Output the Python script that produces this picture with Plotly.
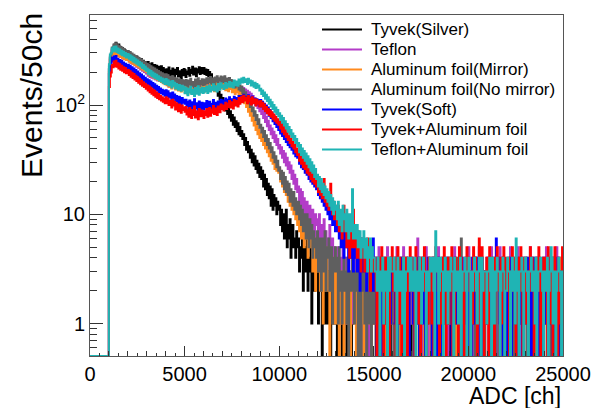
import plotly.graph_objects as go

# ---------------- data ----------------
BIN_WIDTH = 50          # ch per bin
N_EMPTY_LEADING = 20    # bins 0..950 are empty (threshold at 1000 ch)

series_names = [
    "Tyvek(Silver)",
    "Teflon",
    "Aluminum foil(Mirror)",
    "Aluminum foil(No mirror)",
    "Tyvek(Soft)",
    "Tyvek+Aluminum foil",
    "Teflon+Aluminum foil",
]
series_colors = ["#000000", "#B33CC8", "#FF8A1E", "#5F5F5F", "#0000FF", "#FF0000", "#1FB4B4"]

x_tick_values = [0, 5000, 10000, 15000, 20000, 25000]
x_tick_labels = ["0", "5000", "10000", "15000", "20000", "25000"]
y_tick_values = [1, 10, 100]
y_tick_labels = ["1", "10", "10<sup>2</sup>"]

# counts per 50ch bin from 1000 ch to 13950 ch
tyvek_silver_main = [
    214, 271, 283, 322, 301, 352, 318, 371, 329, 312, 358, 301, 339, 292, 331, 284, 322, 276, 309, 271,
    303, 266, 297, 259, 288, 247, 281, 273, 242, 279, 236, 268, 251, 229, 262, 218, 254, 240, 213, 247,
    211, 248, 219, 237, 204, 241, 226, 199, 233, 208, 229, 196, 224, 214, 188, 227, 201, 219, 193, 212,
    184, 213, 195, 221, 179, 206, 189, 216, 198, 175, 210, 192, 218, 183, 204, 196, 171, 209, 187, 214,
    209, 181, 203, 192, 218, 186, 211, 197, 224, 190, 205, 216, 184, 213, 199, 222, 193, 208, 219, 196,
    219, 193, 212, 188, 209, 183, 201, 176, 191, 163, 174, 149, 163, 136, 149, 122, 133, 112, 124, 103,
    116, 97, 108, 89, 101, 83, 95, 77, 88, 72, 81, 66, 77, 63, 71, 58, 68, 54, 63, 52,
    58, 49, 54, 43, 50, 39, 46, 37, 42, 33, 39, 30, 36, 28, 34, 26, 31, 24, 29, 22,
    27, 21, 25, 18, 23, 17, 21, 15, 19, 14, 18, 12, 17, 11, 15, 12, 14, 10, 13, 11,
    12, 8, 11, 7, 10, 6, 9, 11, 5, 8, 6, 9, 4, 7, 8, 5, 6, 4, 7, 5,
    6, 3, 5, 4, 7, 2, 5, 3, 4, 6, 2, 4, 3, 5, 1, 4, 3, 2, 4, 3,
    3, 1, 4, 2, 3, 0, 2, 4, 1, 3, 2, 1, 3, 2, 0, 3, 1, 2, 2, 1,
    2, 0, 3, 1, 2, 2, 0, 3, 1, 2, 1, 0, 2, 3, 1, 2, 0, 1, 2, 2,
]
teflon_main = [
    209, 262, 279, 311, 293, 329, 302, 336, 296, 318, 281, 309, 277, 302, 268, 297, 265, 288, 259, 283,
    282, 251, 276, 243, 269, 238, 262, 231, 257, 224, 249, 219, 241, 212, 236, 206, 228, 201, 221, 195,
    211, 186, 207, 181, 203, 178, 198, 175, 195, 171, 191, 168, 187, 166, 183, 163, 179, 160, 176, 157,
    172, 156, 169, 148, 163, 158, 145, 167, 151, 160, 142, 164, 153, 146, 161, 139, 158, 149, 155, 143,
    141, 158, 147, 136, 155, 144, 161, 139, 152, 146, 137, 159, 150, 143, 163, 140, 154, 138, 157, 145,
    158, 142, 153, 139, 162, 147, 135, 156, 149, 164, 141, 152, 144, 160, 137, 155, 150, 143, 166, 148,
    157, 144, 162, 141, 150, 159, 137, 154, 146, 140, 156, 135, 149, 143, 152, 131, 147, 139, 128, 144,
    146, 131, 143, 127, 139, 124, 135, 119, 131, 114, 127, 109, 121, 105, 115, 99, 109, 94, 103, 88,
    95, 83, 89, 76, 84, 70, 78, 64, 72, 59, 65, 54, 61, 50, 57, 46, 53, 43, 49, 40,
    43, 36, 41, 33, 38, 30, 36, 28, 33, 26, 30, 24, 28, 21, 25, 19, 23, 17, 21, 16,
    18, 13, 17, 12, 16, 10, 14, 12, 9, 13, 11, 8, 12, 10, 7, 11, 9, 6, 10, 8,
    9, 6, 10, 5, 8, 7, 4, 9, 5, 7, 3, 6, 5, 8, 3, 5, 6, 2, 5, 4,
    4, 2, 5, 3, 1, 4, 3, 5, 2, 3, 4, 1, 3, 5, 2, 3, 1, 4, 2, 3,
]
al_mirror_main = [
    201, 258, 272, 304, 286, 318, 293, 321, 288, 309, 279, 303, 275, 297, 268, 291, 263, 284, 258, 279,
    274, 251, 269, 244, 263, 239, 256, 233, 249, 228, 243, 222, 236, 217, 231, 211, 225, 206, 219, 201,
    213, 192, 209, 186, 202, 183, 197, 178, 193, 174, 188, 170, 183, 167, 179, 163, 175, 158, 171, 155,
    169, 152, 166, 147, 160, 155, 142, 163, 148, 157, 139, 154, 145, 136, 151, 141, 133, 149, 138, 146,
    131, 148, 137, 126, 145, 133, 151, 129, 142, 136, 124, 147, 139, 131, 153, 128, 144, 135, 149, 132,
    147, 133, 144, 152, 136, 149, 141, 157, 138, 151, 145, 134, 156, 142, 160, 139, 153, 147, 158, 143,
    156, 141, 159, 137, 152, 146, 134, 155, 140, 149, 131, 147, 138, 126, 143, 132, 140, 124, 136, 121,
    134, 115, 123, 104, 112, 96, 103, 87, 95, 80, 87, 72, 79, 65, 72, 59, 66, 54, 60, 50,
    55, 47, 51, 43, 48, 40, 45, 37, 41, 34, 38, 31, 35, 29, 33, 26, 30, 25, 28, 24,
    26, 20, 24, 18, 22, 16, 20, 15, 18, 13, 16, 12, 15, 11, 13, 10, 12, 9, 11, 8,
    11, 7, 10, 6, 9, 8, 5, 9, 6, 7, 4, 8, 6, 5, 7, 3, 6, 5, 2, 6,
    4, 3, 5, 2, 4, 3, 1, 4, 3, 2, 5, 3, 2, 0, 3, 2, 4, 1, 3, 2,
    1, 3, 2, 0, 2, 3, 1, 2, 0, 3, 2, 1, 2, 3, 1, 0, 2, 2, 3, 1,
]
al_nomirror_main = [
    226, 279, 296, 336, 318, 361, 331, 368, 327, 352, 318, 345, 309, 337, 301, 326, 294, 318, 286, 310,
    313, 282, 306, 274, 297, 268, 289, 261, 281, 255, 274, 247, 267, 241, 259, 236, 252, 228, 245, 222,
    239, 215, 234, 208, 227, 204, 221, 199, 216, 195, 210, 190, 205, 187, 200, 183, 196, 178, 191, 175,
    191, 173, 187, 168, 182, 176, 162, 184, 169, 178, 158, 175, 166, 155, 172, 160, 151, 170, 157, 167,
    152, 170, 158, 147, 168, 155, 174, 150, 163, 157, 145, 171, 160, 151, 176, 149, 166, 156, 172, 153,
    171, 154, 166, 176, 158, 173, 163, 181, 157, 175, 167, 152, 179, 164, 184, 160, 176, 168, 183, 161,
    180, 163, 184, 159, 175, 168, 154, 177, 161, 170, 150, 166, 157, 145, 162, 150, 155, 139, 151, 135,
    148, 128, 140, 120, 131, 112, 122, 104, 113, 96, 104, 88, 95, 80, 88, 73, 81, 67, 74, 62,
    66, 56, 62, 51, 58, 47, 53, 43, 49, 40, 45, 37, 41, 33, 37, 30, 34, 27, 31, 25,
    27, 21, 25, 19, 24, 17, 22, 16, 20, 15, 19, 13, 17, 14, 12, 16, 11, 14, 10, 13,
    13, 9, 12, 8, 11, 7, 10, 8, 6, 10, 7, 5, 9, 6, 8, 4, 7, 5, 6, 4,
    7, 3, 6, 4, 2, 6, 5, 3, 7, 2, 5, 4, 6, 2, 4, 5, 1, 4, 3, 5,
    3, 4, 1, 5, 3, 2, 1, 3, 4, 2, 3, 1, 4, 0, 3, 2, 3, 4, 2, 1,
]
tyvek_soft_main = [
    193, 239, 244, 271, 253, 279, 249, 282, 245, 266, 238, 259, 231, 254, 226, 245, 221, 239, 214, 233,
    234, 211, 229, 205, 222, 199, 216, 193, 209, 188, 203, 182, 196, 177, 190, 171, 184, 166, 178, 160,
    172, 155, 169, 150, 164, 146, 159, 142, 155, 138, 150, 135, 146, 131, 142, 128, 138, 125, 135, 122,
    137, 121, 134, 117, 128, 124, 112, 130, 116, 125, 108, 121, 114, 104, 119, 109, 101, 116, 105, 112,
    103, 112, 98, 107, 94, 110, 100, 91, 106, 97, 113, 93, 104, 96, 88, 108, 99, 92, 105, 95,
    91, 104, 96, 109, 93, 101, 107, 89, 103, 98, 111, 94, 105, 99, 90, 108, 102, 96, 112, 100,
    110, 98, 107, 115, 101, 112, 104, 118, 103, 113, 109, 99, 119, 106, 116, 110, 102, 121, 108, 117,
    121, 108, 124, 111, 119, 113, 105, 123, 110, 117, 103, 120, 112, 106, 115, 100, 113, 104, 111, 98,
    111, 97, 107, 92, 103, 88, 99, 84, 95, 80, 90, 76, 85, 71, 80, 67, 75, 63, 70, 59,
    64, 55, 61, 52, 58, 49, 55, 46, 51, 43, 48, 41, 45, 39, 42, 36, 40, 34, 38, 33,
    35, 29, 34, 27, 32, 26, 30, 24, 29, 23, 27, 21, 26, 20, 24, 19, 23, 18, 22, 17,
    20, 15, 19, 14, 18, 13, 16, 12, 15, 11, 14, 10, 13, 9, 12, 10, 8, 11, 9, 7,
    10, 7, 9, 6, 8, 5, 9, 7, 4, 8, 6, 5, 7, 3, 6, 5, 4, 6, 3, 5,
]
tyvek_al_main = [
    146, 183, 199, 233, 222, 251, 227, 254, 224, 241, 216, 237, 211, 229, 206, 222, 200, 218, 196, 211,
    209, 188, 204, 182, 198, 177, 192, 171, 186, 166, 180, 160, 174, 155, 168, 150, 162, 146, 157, 141,
    152, 136, 149, 131, 144, 127, 139, 123, 135, 119, 130, 116, 126, 113, 122, 110, 118, 107, 115, 104,
    118, 104, 115, 100, 110, 106, 95, 112, 99, 107, 91, 104, 97, 88, 101, 93, 85, 99, 90, 95,
    87, 96, 82, 91, 78, 94, 85, 76, 90, 81, 97, 77, 88, 83, 74, 92, 84, 79, 89, 80,
    76, 88, 81, 92, 78, 86, 94, 80, 91, 85, 98, 83, 93, 88, 81, 97, 90, 86, 101, 92,
    99, 89, 97, 105, 92, 103, 96, 109, 95, 106, 102, 93, 111, 99, 109, 104, 97, 116, 103, 112,
    119, 106, 122, 110, 117, 112, 104, 121, 108, 115, 101, 118, 110, 104, 113, 99, 112, 103, 108, 97,
    109, 97, 105, 92, 101, 88, 96, 84, 92, 81, 89, 78, 86, 75, 82, 72, 78, 69, 74, 66,
    71, 61, 67, 57, 63, 54, 60, 51, 56, 48, 52, 45, 49, 42, 46, 40, 43, 37, 40, 35,
    38, 31, 36, 29, 34, 27, 32, 26, 30, 24, 28, 23, 27, 21, 25, 20, 24, 19, 22, 18,
    21, 16, 20, 15, 19, 14, 17, 21, 13, 16, 12, 15, 11, 14, 19, 12, 10, 13, 9, 12,
    11, 8, 12, 7, 10, 9, 6, 10, 12, 7, 8, 5, 9, 7, 4, 8, 6, 5, 11, 6,
]
teflon_al_main = [
    236, 291, 298, 331, 309, 342, 314, 344, 306, 329, 299, 322, 292, 315, 286, 307, 280, 299, 273, 293,
    292, 266, 286, 259, 278, 251, 271, 245, 263, 239, 256, 232, 248, 226, 241, 219, 233, 213, 226, 206,
    216, 194, 211, 189, 205, 185, 199, 180, 194, 176, 189, 172, 184, 168, 179, 164, 175, 160, 171, 156,
    173, 155, 169, 151, 164, 158, 145, 166, 150, 160, 142, 156, 148, 138, 153, 143, 135, 150, 139, 147,
    128, 144, 133, 123, 141, 130, 147, 126, 138, 132, 121, 143, 135, 127, 149, 124, 140, 131, 145, 129,
    130, 143, 134, 148, 129, 141, 151, 133, 146, 138, 155, 136, 149, 142, 133, 156, 144, 139, 158, 146,
    152, 140, 149, 159, 144, 156, 148, 163, 147, 160, 155, 145, 168, 152, 164, 158, 150, 171, 157, 169,
    175, 161, 178, 163, 172, 166, 156, 174, 160, 168, 151, 165, 155, 147, 160, 143, 156, 145, 151, 136,
    141, 126, 136, 121, 130, 114, 124, 109, 118, 103, 112, 97, 106, 92, 100, 87, 95, 83, 90, 79,
    84, 73, 80, 69, 76, 65, 71, 61, 67, 57, 63, 54, 59, 51, 55, 48, 52, 45, 49, 42,
    45, 37, 43, 35, 40, 33, 38, 31, 36, 29, 34, 27, 32, 25, 30, 24, 28, 22, 26, 21,
    23, 18, 22, 17, 21, 16, 19, 15, 18, 14, 17, 13, 16, 12, 15, 11, 14, 10, 13, 11,
    12, 9, 13, 8, 11, 10, 7, 12, 9, 10, 7, 11, 8, 6, 10, 7, 9, 17, 6, 8,
]

# low-count tails, one digit per 50ch bin from 14000 ch to 24950 ch
tyvek_silver_tail = (
    "21302123102213201231" "12031220132102312013" "20213103212031022130" "31202132013212302120"
    "12303121022031213021" "02131203121302213102" "21023130212031202312" "13201221302132013021"
    "20312130221023112302" "12130220312130211203" "31202131023012132102"
)
teflon_tail = (
    "34203142304352102413" "23102532410223502432" "30415203142532104221" "41302561420214251303"
    "24102413521032213402" "13202513224103214202" "52314024130523102314" "20415232102315324102"
    "31405213203152134203" "42102541302413201324" "23514202413205314202"
)
al_mirror_tail = (
    "20313212402313121032" "13220413212032413122" "31243120322141302213" "22130423112430221314"
    "03214213221043122312" "41223101324221312403" "21302421322130412231" "32142130224131203221"
    "13221402312241321302" "21340221312032142213" "32103221421302213241"
)
al_nomirror_tail = (
    "32403203241302143021" "23142302031423102341" "10223031242102041232" "32101422301324203142"
    "21402132041203132214" "13220314201262031302" "42101230421321403013" "23102213032402231420"
    "31204130221402132203" "24013201342132041202" "12304130223102213021"
)
tyvek_soft_tail = (
    "45354263534425343526" "32403214302413203142" "23140321423102413023" "41302314032413021432"
    "20341302413204132413" "32041423102314031240" "13204132410321403213" "42103241362413204132"
    "30214032413024130241" "23410320413241032014" "41302413204132403213"
)
tyvek_al_tail = (
    "56474536453546342534" "34203142530241320435" "23402514302431402352" "42305231402435203142"
    "31402534203142530241" "24503142305241302453" "42031524302613520314" "30524130425320413524"
    "23401352420314253042" "41302534203142530214" "32405231402532041325"
)
teflon_al_tail = (
    "76856746574563546354" "43324302341232042433" "34230432321402334324" "32340332431243302324"
    "33420734124330342313" "24330423313402334203" "43032343213430423331" "33420431324330234302"
    "24330342316320334203" "43203342331402334320" "32340235413302343203"
)

series_main = [tyvek_silver_main, teflon_main, al_mirror_main, al_nomirror_main,
               tyvek_soft_main, tyvek_al_main, teflon_al_main]
series_tail = [tyvek_silver_tail, teflon_tail, al_mirror_tail, al_nomirror_tail,
               tyvek_soft_tail, tyvek_al_tail, teflon_al_tail]

# ---------------- figure ----------------
Y_LOG_MIN = -0.297
Y_LOG_MAX = 2.8245
X_MAX = 25000
y_floor = 10 ** Y_LOG_MIN  # empty bins are drawn on the frame bottom, as ROOT does

FONT = "Liberation Sans, Arial, Helvetica, sans-serif"
ML, MR, MT, MB = 90, 38, 15, 52
W, H = 601, 408
PW, PH = W - ML - MR, H - MT - MB


def px_to_paper_x(px):
    return (px - ML) / PW


def px_to_paper_y(py):
    return (H - MB - py) / PH


fig = go.Figure()
for name, color, main, tail in zip(series_names, series_colors, series_main, series_tail):
    counts = [0] * N_EMPTY_LEADING + list(main) + [int(ch) for ch in tail]
    edges = [i * BIN_WIDTH for i in range(len(counts) + 1)]
    yv = [c if c > 0 else y_floor for c in counts]
    yv = yv + [yv[-1]]
    fig.add_trace(go.Scatter(
        x=edges, y=yv, mode="lines", name=name,
        line=dict(color=color, width=2, shape="hv"),
        hoverinfo="skip", showlegend=False,
    ))

# tertiary ticks (every 500 ch) on an overlaid axis
fig.add_trace(go.Scatter(x=[0], y=[y_floor], xaxis="x2", mode="markers",
                         marker=dict(opacity=0), showlegend=False, hoverinfo="skip"))

# ROOT-style legend (TLegend without border): line sample + label per entry
shapes = []
annotations = []
for i, (name, color) in enumerate(zip(series_names, series_colors)):
    yc = 29.5 + 20 * i
    shapes.append(dict(type="line", xref="paper", yref="paper",
                       x0=px_to_paper_x(322), x1=px_to_paper_x(362),
                       y0=px_to_paper_y(yc), y1=px_to_paper_y(yc),
                       line=dict(color=color, width=2)))
    annotations.append(dict(text=name, xref="paper", yref="paper",
                            x=px_to_paper_x(369), y=px_to_paper_y(yc),
                            xanchor="left", yanchor="middle", showarrow=False,
                            font=dict(family=FONT, size=17, color="black")))

annotations += [
    dict(text="Events/50ch", xref="paper", yref="paper",
         x=px_to_paper_x(31), y=px_to_paper_y(96), xanchor="center", yanchor="middle",
         textangle=-90, showarrow=False, font=dict(family=FONT, size=30, color="black")),
    dict(text="ADC [ch]", xref="paper", yref="paper",
         x=1.0, y=px_to_paper_y(396), xanchor="right", yanchor="middle",
         showarrow=False, font=dict(family=FONT, size=23, color="black")),
]

fig.update_layout(
    width=W, height=H,
    margin=dict(l=ML, r=MR, t=MT, b=MB, autoexpand=False),
    paper_bgcolor="white", plot_bgcolor="white",
    font=dict(family=FONT, color="black"),
    showlegend=False,
    hovermode=False,
    shapes=shapes,
    annotations=annotations,
    xaxis=dict(
        range=[0, X_MAX], tickvals=x_tick_values, ticktext=x_tick_labels,
        ticks="inside", ticklen=10, tickwidth=1, tickcolor="#333",
        showline=True, linecolor="#555", linewidth=1, mirror=True,
        showgrid=False, zeroline=False, automargin=False,
        tickfont=dict(family=FONT, size=20, color="black"),
        minor=dict(ticks="inside", dtick=1000, tick0=0, ticklen=5, tickcolor="#333", showgrid=False),
    ),
    xaxis2=dict(
        range=[0, X_MAX], overlaying="x", anchor="y", side="bottom",
        ticks="inside", dtick=500, tick0=0, ticklen=3, tickcolor="#333",
        showticklabels=False, showline=False, showgrid=False, zeroline=False, automargin=False,
    ),
    yaxis=dict(
        type="log", range=[Y_LOG_MIN, Y_LOG_MAX],
        tickvals=y_tick_values, ticktext=y_tick_labels,
        ticks="inside", ticklen=13, tickwidth=1, tickcolor="#333",
        showline=True, linecolor="#555", linewidth=1, mirror=True,
        showgrid=False, zeroline=False, automargin=False,
        tickfont=dict(family=FONT, size=20, color="black"),
        minor=dict(ticks="inside", dtick="D1", ticklen=7, tickcolor="#333", showgrid=False),
    ),
)

fig.write_html(
    "out.html",
    config={"displayModeBar": False, "staticPlot": True},
    post_script="document.body.style.margin='0';document.body.style.overflow='hidden';",
)
